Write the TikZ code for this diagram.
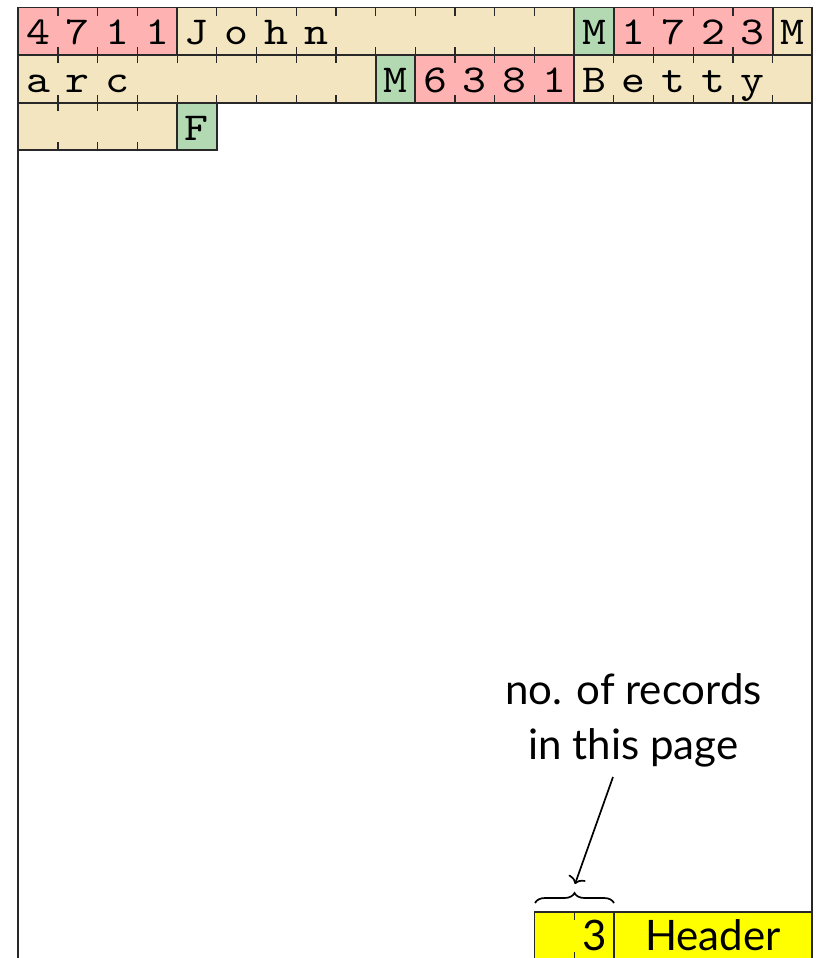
\documentclass[tikz,border=0pt]{standalone}
\usepackage{fontspec}
\newfontfamily\labelfont{Lato}
\newfontfamily\cellfont[FakeStretch=1.15]{lmmono10-regular.otf}
\usetikzlibrary{decorations.pathreplacing,arrows.meta}
\definecolor{numred}{RGB}{255,178,178}
\definecolor{strbeige}{RGB}{243,229,191}
\definecolor{sexgreen}{RGB}{179,217,179}
\definecolor{hdryellow}{RGB}{255,255,0}
\definecolor{frameline}{RGB}{40,40,40}
% #1 row, #2 first column, #3 number of cells, #4 fill, #5 name, #6 characters
\newcommand\recfield[6]{%
  \pgfmathsetmacro\fx{18.3+#2*39.7}%
  \pgfmathsetmacro\fy{7.5+#1*47.6}%
  \pgfmathsetmacro\fxe{\fx+#3*39.7}%
  \pgfmathsetmacro\fye{\fy+47.6}%
  \filldraw[fieldbox,fill=#4] (\fx,\fy) rectangle (\fxe,\fye);
  \ifnum#3>1
    \pgfmathtruncatemacro\nt{#3-1}%
    \foreach \k in {1,...,\nt}{%
      \draw[tickline] (\fx+\k*39.7,\fy) -- ++(0,8);
      \draw[tickline] (\fx+\k*39.7,\fye) -- ++(0,-8);
    }%
  \fi
  \foreach \ch [count=\i from 0] in {#6}{%
    \node[chartext] (#5-\i) at (\fx+\i*39.7+19.85,\fy+37.3) {\ch};
  }%
}
\begin{document}
\begin{tikzpicture}[x=0.5pt,y=-0.5pt,
  fieldbox/.style={draw=frameline,line width=0.9pt},
  tickline/.style={draw=frameline,line width=0.6pt},
  chartext/.style={anchor=base,inner sep=0pt,font=\cellfont\fontsize{19.8}{21}\selectfont},
  sanstext/.style={inner sep=0pt,font=\labelfont\fontsize{21}{27.5}\selectfont},
  link/.style={-{Computer Modern Rightarrow[length=3.5pt,width=9pt]},draw=black,line width=0.85pt},
  bracedeco/.style={decorate,decoration={brace,amplitude=5pt},draw=black,line width=0.85pt}]
\useasboundingbox (0,0) rectangle (817,958);
% page frame
\draw[fieldbox] (18.3,7.5) rectangle (812.3,959.5);
% row 1
\recfield{0}{0}{4}{numred}{id1}{4,7,1,1}
\recfield{0}{4}{10}{strbeige}{name1}{J,o,h,n}
\recfield{0}{14}{1}{sexgreen}{sex1}{M}
\recfield{0}{15}{4}{numred}{id2}{1,7,2,3}
\recfield{0}{19}{1}{strbeige}{name2a}{M}
% row 2
\recfield{1}{0}{9}{strbeige}{name2b}{a,r,c}
\recfield{1}{9}{1}{sexgreen}{sex2}{M}
\recfield{1}{10}{4}{numred}{id3}{6,3,8,1}
\recfield{1}{14}{6}{strbeige}{name3a}{B,e,t,t,y}
% row 3
\recfield{2}{0}{4}{strbeige}{name3b}{}
\recfield{2}{4}{1}{sexgreen}{sex3}{F}
% header row
\recfield{19}{13}{2}{hdryellow}{count}{}
\node[sanstext,anchor=base] (countval) at (594.4,950) {3};
\filldraw[fieldbox,fill=hdryellow] (613.8,911.9) rectangle (812.3,959.5);
\node[sanstext,anchor=base] (header) at (713,950) {Header};
% annotation
\node[sanstext,align=center,anchor=base] (note) at (633.5,759) {no. of records\\in this page};
\draw[bracedeco] (535,903) -- (614,903);
\coordinate (arrowstart) at (613,777);
\coordinate (bracetip) at (575,884);
\draw[link] (arrowstart) -- (bracetip);
\end{tikzpicture}
\end{document}
